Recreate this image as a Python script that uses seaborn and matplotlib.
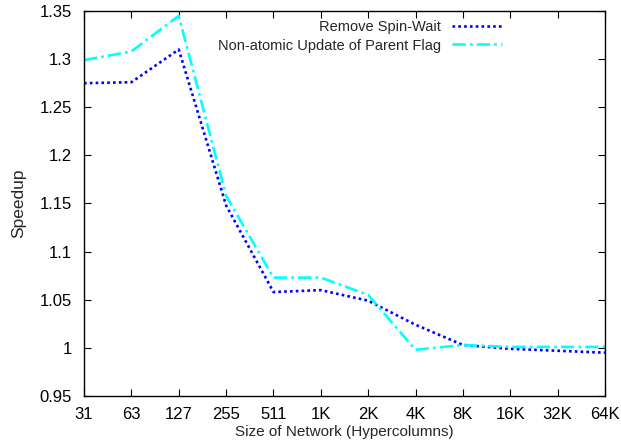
import matplotlib
matplotlib.use("Agg")
import matplotlib.pyplot as plt
import seaborn as sns
import pandas as pd
import numpy as np

# Network sizes (hypercolumns) and measured speedups
sizes = ["31", "63", "127", "255", "511", "1K", "2K", "4K", "8K", "16K", "32K", "64K"]
remove_spin_wait = [1.275, 1.276, 1.310, 1.148, 1.058, 1.060, 1.049, 1.024, 1.003, 0.999, 0.997, 0.995]
non_atomic_update = [1.299, 1.308, 1.345, 1.158, 1.073, 1.073, 1.055, 0.998, 1.003, 1.001, 1.001, 1.001]
series_names = ["Remove Spin-Wait", "Non-atomic Update of Parent Flag"]
y_ticks = [0.95, 1.0, 1.05, 1.1, 1.15, 1.2, 1.25, 1.3, 1.35]
y_tick_labels = ["0.95", "1", "1.05", "1.1", "1.15", "1.2", "1.25", "1.3", "1.35"]

sns.set_style("ticks")
plt.rcParams["font.family"] = ["Liberation Sans", "DejaVu Sans"]
plt.rcParams["font.size"] = 10

pos = np.arange(len(sizes))
df = pd.DataFrame({
    "pos": np.concatenate([pos, pos]),
    "speedup": remove_spin_wait + non_atomic_update,
    "series": [series_names[0]] * len(sizes) + [series_names[1]] * len(sizes),
})

fig = plt.figure(figsize=(6.21, 4.47), dpi=100)
ax = fig.add_axes([0.1353, 0.1141, 0.8389, 0.8613])

colors = {series_names[0]: "#0000ff", series_names[1]: "#00ffff"}
dashes = {series_names[0]: (1, 1.2), series_names[1]: (5, 1.6, 1, 1.6)}
sns.lineplot(data=df, x="pos", y="speedup", hue="series", style="series",
             palette=colors, dashes=dashes, linewidth=1.9, ax=ax,
             hue_order=series_names, style_order=series_names)

ax.set_xlim(0, len(sizes) - 1)
ax.set_ylim(0.95, 1.35)
ax.set_xticks(pos)
ax.set_xticklabels(sizes)
ax.set_yticks(y_ticks)
ax.set_yticklabels(y_tick_labels)
ax.tick_params(direction="in", top=True, right=True, length=5, width=0.8,
               labelsize=12, colors="black")
ax.tick_params(axis="x", pad=8)
ax.tick_params(axis="y", pad=8.5)
for s in ax.spines.values():
    s.set_visible(True)
    s.set_linewidth(1.0)
    s.set_color("black")
ax.set_xlabel("Size of Network (Hypercolumns)", fontsize=11, labelpad=2)
ax.set_ylabel("Speedup", fontsize=12.5, labelpad=10)

handles, labels = ax.get_legend_handles_labels()
ax.legend(handles, labels, loc="upper right", bbox_to_anchor=(0.802, 0.977),
          frameon=False, markerfirst=False, handlelength=3.4,
          handletextpad=0.75, labelspacing=0.32, borderpad=0, borderaxespad=0,
          fontsize=10.5)

fig.savefig("out.png", dpi=100)
